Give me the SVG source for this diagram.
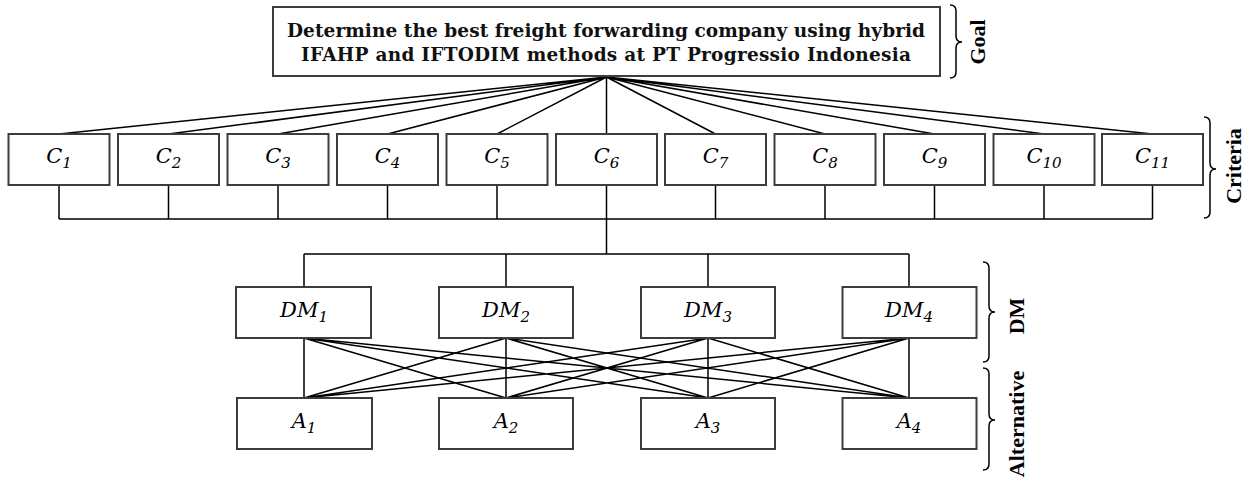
<svg xmlns="http://www.w3.org/2000/svg" width="1249" height="482" viewBox="0 0 1249 482">
<style>
.box{fill:#fff;stroke:#3c3c3c;stroke-width:2}
.ln{stroke:#000;stroke-width:1.5;fill:none}
.brace{stroke:#000;stroke-width:1.5;fill:none}
.lbl{font-family:"DejaVu Serif",serif;font-style:italic;font-size:21px;fill:#000;text-anchor:middle}
.sub{font-size:15px}
.goal{font-family:"DejaVu Serif",serif;font-weight:bold;font-size:18.5px;fill:#111;text-anchor:middle}
.side{font-family:"Liberation Serif",serif;font-weight:bold;font-size:22px;fill:#000;text-anchor:middle}
</style>
<rect width="1249" height="482" fill="#fff"/>
<g id="connectors">
<path class="ln" d="M606.5 77 L59 134 M606.5 77 L168.5 134 M606.5 77 L278 134 M606.5 77 L387.5 134 M606.5 77 L497 134 M606.5 77 L606.5 134 M606.5 77 L715.5 134 M606.5 77 L825 134 M606.5 77 L934.5 134 M606.5 77 L1044 134 M606.5 77 L1152.5 134"/>
<path class="ln" d="M59 185 V219 M168.5 185 V219 M278 185 V219 M387.5 185 V219 M497 185 V219 M606.5 185 V254 M715.5 185 V219 M825 185 V219 M934.5 185 V219 M1044 185 V219 M1152.5 185 V219 M59 219 H1152.5"/>
<path class="ln" d="M304 254 H909 M304 254 V287 M506 254 V287 M708 254 V287 M909 254 V287"/>
<path class="ln" d="M304 338 L304 398 M304 338 L506 398 M304 338 L708 398 M304 338 L909 398
M506 338 L304 398 M506 338 L506 398 M506 338 L708 398 M506 338 L909 398
M708 338 L304 398 M708 338 L506 398 M708 338 L708 398 M708 338 L909 398
M909 338 L304 398 M909 338 L506 398 M909 338 L708 398 M909 338 L909 398"/>
</g>
<g id="goal">
<rect class="box" x="273" y="7" width="667" height="69"/>
<text class="goal" x="606" y="37" textLength="638">Determine the best freight forwarding company using hybrid</text>
<text class="goal" x="606" y="61" textLength="610">IFAHP and IFTODIM methods at PT Progressio Indonesia</text>
</g>
<g id="C1"><rect class="box" x="8.5" y="134" width="101" height="51"/><text class="lbl" x="59" y="163">C<tspan class="sub" dy="5">1</tspan></text></g>
<g id="C2"><rect class="box" x="118" y="134" width="101" height="51"/><text class="lbl" x="168.5" y="163">C<tspan class="sub" dy="5">2</tspan></text></g>
<g id="C3"><rect class="box" x="227.5" y="134" width="101" height="51"/><text class="lbl" x="278" y="163">C<tspan class="sub" dy="5">3</tspan></text></g>
<g id="C4"><rect class="box" x="337" y="134" width="101" height="51"/><text class="lbl" x="387.5" y="163">C<tspan class="sub" dy="5">4</tspan></text></g>
<g id="C5"><rect class="box" x="446.5" y="134" width="101" height="51"/><text class="lbl" x="497" y="163">C<tspan class="sub" dy="5">5</tspan></text></g>
<g id="C6"><rect class="box" x="556" y="134" width="101" height="51"/><text class="lbl" x="606.5" y="163">C<tspan class="sub" dy="5">6</tspan></text></g>
<g id="C7"><rect class="box" x="665" y="134" width="101" height="51"/><text class="lbl" x="715.5" y="163">C<tspan class="sub" dy="5">7</tspan></text></g>
<g id="C8"><rect class="box" x="774.5" y="134" width="101" height="51"/><text class="lbl" x="825" y="163">C<tspan class="sub" dy="5">8</tspan></text></g>
<g id="C9"><rect class="box" x="884" y="134" width="101" height="51"/><text class="lbl" x="934.5" y="163">C<tspan class="sub" dy="5">9</tspan></text></g>
<g id="C10"><rect class="box" x="993.5" y="134" width="101" height="51"/><text class="lbl" x="1044" y="163">C<tspan class="sub" dy="5">10</tspan></text></g>
<g id="C11"><rect class="box" x="1102" y="134" width="101" height="51"/><text class="lbl" x="1152.5" y="163">C<tspan class="sub" dy="5">11</tspan></text></g>
<g id="DM1"><rect class="box" x="236" y="287" width="135" height="51"/><text class="lbl" x="304" y="317">DM<tspan class="sub" dy="5">1</tspan></text></g>
<g id="DM2"><rect class="box" x="439" y="287" width="134" height="51"/><text class="lbl" x="506" y="317">DM<tspan class="sub" dy="5">2</tspan></text></g>
<g id="DM3"><rect class="box" x="641" y="287" width="134" height="51"/><text class="lbl" x="708" y="317">DM<tspan class="sub" dy="5">3</tspan></text></g>
<g id="DM4"><rect class="box" x="842.5" y="287" width="134" height="51"/><text class="lbl" x="909" y="317">DM<tspan class="sub" dy="5">4</tspan></text></g>
<g id="A1"><rect class="box" x="237" y="398" width="135" height="51"/><text class="lbl" x="304" y="428">A<tspan class="sub" dy="5">1</tspan></text></g>
<g id="A2"><rect class="box" x="439" y="398" width="134" height="51"/><text class="lbl" x="506" y="428">A<tspan class="sub" dy="5">2</tspan></text></g>
<g id="A3"><rect class="box" x="641" y="398" width="134" height="51"/><text class="lbl" x="708" y="428">A<tspan class="sub" dy="5">3</tspan></text></g>
<g id="A4"><rect class="box" x="842.5" y="398" width="134" height="51"/><text class="lbl" x="909" y="428">A<tspan class="sub" dy="5">4</tspan></text></g>
<g id="brace-goal">
<path class="brace" d="M950 5 Q956 5 956 11 L956 36 Q956 42 962 42 Q956 42 956 48 L956 72 Q956 78 950 78"/>
<text class="side" transform="translate(985 42) rotate(-90)">Goal</text>
</g>
<g id="brace-criteria">
<path class="brace" d="M1204 117 Q1210 117 1210 123 L1210 163 Q1210 169 1216 169 Q1210 169 1210 175 L1210 212 Q1210 218 1204 218"/>
<text class="side" transform="translate(1241 166) rotate(-90)" font-size="23">Criteria</text>
</g>
<g id="brace-dm">
<path class="brace" d="M983 262 Q989 262 989 268 L989 306 Q989 312 995 312 Q989 312 989 318 L989 356 Q989 362 983 362"/>
<text class="side" transform="translate(1024 316) rotate(-90)">DM</text>
</g>
<g id="brace-alt">
<path class="brace" d="M983 368 Q989 368 989 374 L989 414 Q989 420 995 420 Q989 420 989 426 L989 464 Q989 470 983 470"/>
<text class="side" transform="translate(1024 424) rotate(-90)">Alternative</text>
</g>
</svg>
